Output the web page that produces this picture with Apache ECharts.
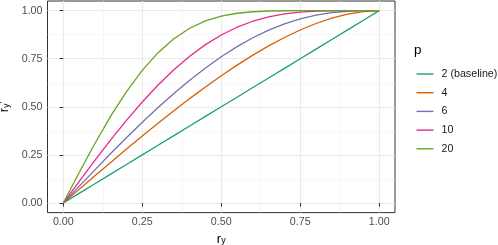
<!DOCTYPE html>
<html><head><meta charset="utf-8">
<script src="https://cdn.jsdelivr.net/npm/echarts@6/dist/echarts.min.js"></script>
<style>html,body{margin:0;padding:0;background:#fff}#c{width:498px;height:245px}</style>
</head><body><div id="c"></div>
<script>
const xs  = [0,0.05,0.1,0.15,0.2,0.25,0.3,0.35,0.4,0.45,0.5,0.55,0.6,0.65,0.7,0.75,0.8,0.85,0.9,0.95,1];
const p2  = [0,0.05,0.1,0.15,0.2,0.25,0.3,0.35,0.4,0.45,0.5,0.55,0.6,0.65,0.7,0.75,0.8,0.85,0.9,0.95,1];
const p4  = [0,0.0707,0.1411,0.2109,0.28,0.348,0.4146,0.4796,0.5426,0.6033,0.6614,0.7166,0.7684,0.8164,0.8602,0.8992,0.933,0.9607,0.9818,0.9952,1];
const p6  = [0,0.0865,0.1723,0.2569,0.3395,0.4196,0.4964,0.5695,0.6382,0.702,0.7604,0.8128,0.859,0.8986,0.9313,0.9572,0.9764,0.9893,0.9966,0.9995,1];
const p10 = [0,0.1115,0.2214,0.328,0.4297,0.5252,0.6132,0.6926,0.7628,0.8231,0.8733,0.9137,0.9448,0.9674,0.9826,0.992,0.997,0.9992,0.9999,1,1];
const p20 = [0,0.1572,0.3092,0.4512,0.5789,0.6896,0.7814,0.854,0.9084,0.9465,0.9714,0.9863,0.9942,0.9979,0.9994,0.9999,1,1,1,1,1];
const seriesNames = ['2 (baseline)','4','6','10','20'];
const seriesValues = [p2,p4,p6,p10,p20];
const colors = ['#1B9E77','#D95F02','#7570B3','#E7298A','#66A61E'];
const majorTicks = [0,0.25,0.5,0.75,1];
const minorTicks = [0.125,0.375,0.625,0.875];
const tickLabels = ['0.00','0.25','0.50','0.75','1.00'];

const FONT = '"Liberation Sans", Arial, sans-serif';
const chart = echarts.init(document.getElementById('c'), null, {renderer:'canvas'});

function majorAxis(isX){
  return {
    type:'value', min:-0.05, max:1.05, gridIndex:0,
    position: isX ? 'bottom' : 'left',
    axisLine:{show:false},
    axisTick:{show:true, customValues:majorTicks, length:3.7, lineStyle:{color:'#333333', width:1}},
    axisLabel:{show:true, customValues:majorTicks, margin: isX ? 4 : 5,
      formatter:(v)=>{const i=majorTicks.indexOf(Math.round(v*1000)/1000); return i>=0?tickLabels[i]:'';},
      color:'#4D4D4D', fontSize:10.7, fontFamily:FONT},
    splitLine:{show:true, lineStyle:{color:'#EBEBEB', width:1.1}},
    name: isX ? '{r|r}{s|y}' : '{r|r}{s|y}{p|′}',
    nameLocation:'middle',
    nameGap: isX ? 9 : 31.8,
    nameRotate: isX ? 0 : 90,
    nameTextStyle:{fontFamily:FONT, color:'#000', lineHeight:20,
      rich:{
        r:{fontSize:13, lineHeight:13, verticalAlign:'middle', fontFamily:FONT, color:'#000'},
        s:{fontSize:9, lineHeight:9, verticalAlign:'bottom', fontFamily:FONT, color:'#000'},
        p:{fontSize:11, lineHeight:11, verticalAlign:'middle', fontFamily:FONT, color:'#000'}
      }}
  };
}
function minorAxis(isX){
  return {
    type:'value', min:-0.05, max:1.05, gridIndex:0,
    position: isX ? 'bottom' : 'left',
    axisLine:{show:false},
    axisTick:{show:false, customValues:minorTicks},
    axisLabel:{show:false, customValues:minorTicks},
    splitLine:{show:true, lineStyle:{color:'#F2F2F2', width:0.6}}
  };
}

const series = seriesNames.map((n,k)=>({
  name:n, type:'line', xAxisIndex:0, yAxisIndex:0,
  data: xs.map((x,i)=>[x, seriesValues[k][i]]),
  symbol:'none', showSymbol:false, smooth:false,
  lineStyle:{color:colors[k], width:1.3}, itemStyle:{color:colors[k]},
  z: 3 + k
}));

chart.setOption({
  animation:false,
  backgroundColor:'#ffffff',
  grid:{left:47.5, right:103, top:1, bottom:32.4, show:true, borderColor:'#333333', borderWidth:1, backgroundColor:'rgba(0,0,0,0)', containLabel:false, outerBoundsMode:'none'},
  title:{text:'p', left:414, top:44, padding:0, textStyle:{fontSize:13.4, fontWeight:'normal', color:'#000', fontFamily:FONT}},
  legend:{data:seriesNames.map(n=>({name:n, icon:'rect'})), orient:'vertical', left:416.5, top:68.5, itemWidth:17, itemHeight:1.4, itemGap:7.7, padding:0,
    textStyle:{fontSize:10.7, color:'#1A1A1A', fontFamily:FONT, padding:[0,0,0,3]}},
  xAxis:[majorAxis(true), minorAxis(true)],
  yAxis:[majorAxis(false), minorAxis(false)],
  series: series
});
</script></body></html>
